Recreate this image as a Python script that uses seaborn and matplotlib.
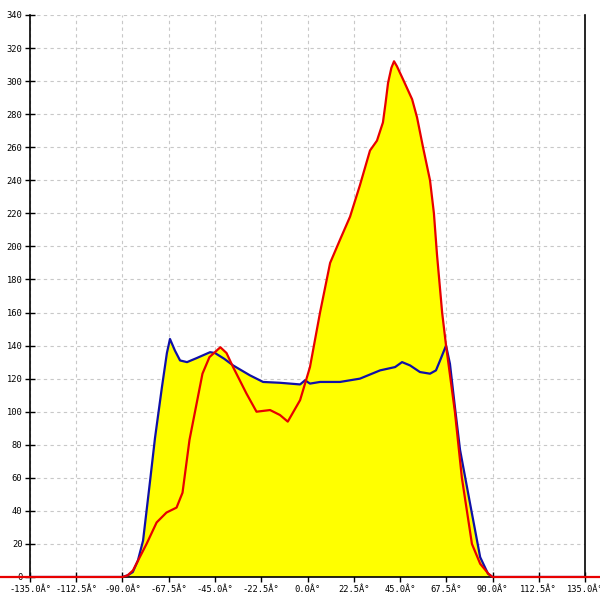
import numpy as np
import matplotlib
matplotlib.use("Agg")
import matplotlib.pyplot as plt
import seaborn as sns

# blue series (angle in degrees, value)
blue_x = [-150, -90, -87.5, -85, -82.5, -80, -76.6, -74.2, -70.8, -68.4, -66.9,
          -64.5, -62, -58.6, -53.8, -47.4, -45, -40.5, -36.2, -28, -21.6, -13.4,
          -8.5, -3.6, -1.2, 1.2, 6.1, 15.8, 25.5, 35.3, 42.6, 46, 49.9, 54.7, 59.6,
          62.5, 64.5, 67.4, 69.3, 71.7, 74.2, 79, 84, 87.8, 90, 150]
blue_y = [0, 0, 1, 3, 10, 22, 58, 84, 115, 135.5, 144,
          137, 131, 130, 132.5, 136, 135.5, 132, 128, 122, 118, 117.5,
          117, 116.5, 119, 117, 118, 118, 120, 125, 127, 130, 128, 124, 123,
          125, 131, 140, 129, 103, 77, 45, 12, 2, 0, 0]

# red series
red_x = [-150, -90, -87.5, -84.9, -78.3, -73.4, -68.6, -63.7, -60.8, -57.4, -51.1,
         -47.7, -42.4, -39.4, -36.2, -29.7, -24.8, -18.2, -13.4, -9.6, -3.6, -1.2,
         1.2, 6.1, 11, 15.8, 20.7, 25.5, 30.4, 33.8, 36.7, 38, 39.2, 40.8, 42.1,
         43.5, 46.5, 50.9, 53.3, 56.2, 59.6, 61.5, 63, 65.5, 67.4, 71.7, 75.1, 80,
         84, 88, 90, 150]
red_y = [0, 0, 1, 4, 20, 33, 39, 42, 51, 83, 123,
         133, 139, 135.5, 127, 111, 100, 101, 98, 94, 107, 117,
         127, 160, 190, 204, 218, 237, 258, 264, 275, 287, 299, 308, 312,
         309, 301, 289, 278, 260, 240, 220, 195, 160, 140, 100, 60, 20,
         8, 2, 0, 0]

x_ticks = np.arange(-135, 135.1, 22.5)
x_labels = [f"{v:.1f}Â°" for v in x_ticks]
y_ticks = list(range(0, 341, 20))

sns.set_theme(style="white")
plt.rcParams["font.family"] = ["DejaVu Sans Mono"]

fig = plt.figure(figsize=(6, 6), dpi=100)
ax = fig.add_axes([30 / 600, 23 / 600, 555 / 600, 562 / 600])

# yellow area under both curves
ax.fill_between(blue_x, blue_y, color="#ffff00", lw=0, zorder=2)
ax.fill_between(red_x, red_y, color="#ffff00", lw=0, zorder=2)

sns.lineplot(x=blue_x, y=blue_y, ax=ax, color="#1010a8", lw=1.6,
             sort=False, estimator=None, zorder=3)
sns.lineplot(x=red_x, y=red_y, ax=ax, color="#e80000", lw=1.6,
             sort=False, estimator=None, zorder=4)
ax.lines[-1].set_clip_on(False)
for ln in ax.lines:
    ln.set_solid_joinstyle("round")

ax.set_xlim(-135, 135)
ax.set_ylim(0, 340)
ax.set_xticks(x_ticks)
ax.set_xticklabels(x_labels)
ax.set_yticks(y_ticks)
ax.set_yticklabels([str(v) for v in y_ticks])

ax.grid(True, color="#c8c8c8", linestyle=(0, (3, 3)), lw=0.8, zorder=1)
ax.set_axisbelow(True)

ax.spines["top"].set_visible(False)
for side in ["left", "right", "bottom"]:
    ax.spines[side].set_visible(True)
    ax.spines[side].set_color("black")
    ax.spines[side].set_linewidth(1.2)

ax.tick_params(axis="both", direction="inout", length=7, width=1, color="black",
               labelsize=6.3, labelcolor="black", pad=2)
ax.tick_params(axis="x", bottom=True, top=False)
ax.tick_params(axis="y", left=True, right=False)

fig.savefig("out.png", dpi=100, facecolor="white")
